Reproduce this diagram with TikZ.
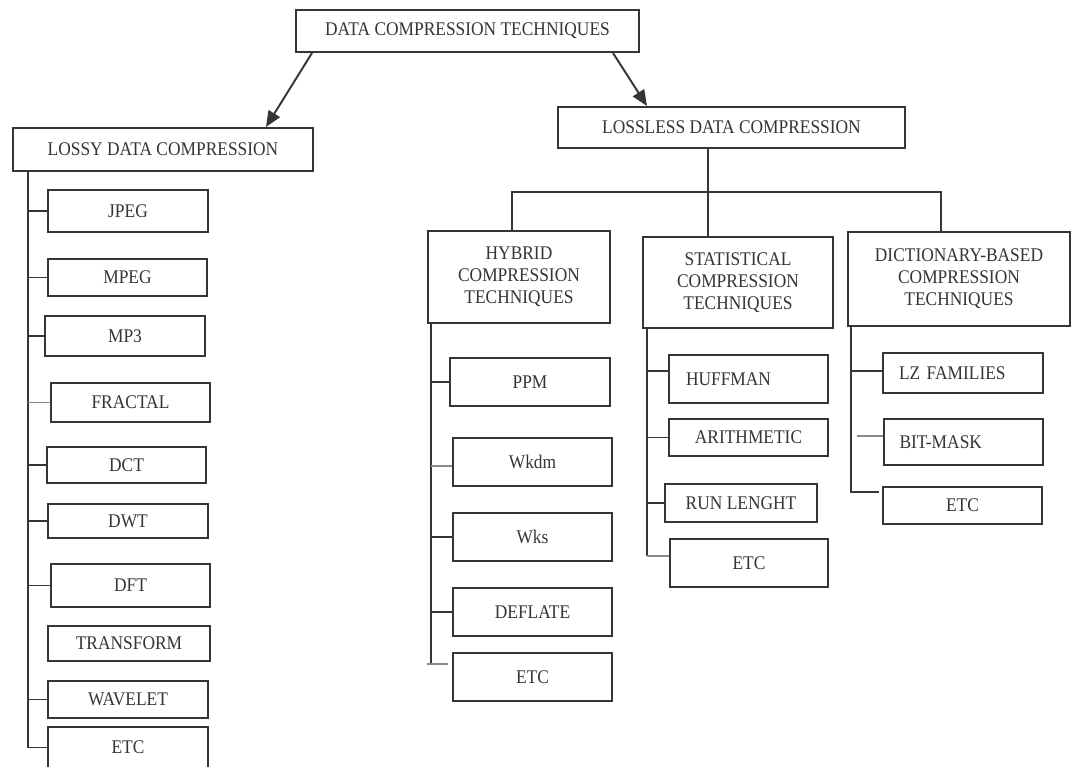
\documentclass[tikz,border=0pt]{standalone}
\usepackage{fontspec}
\setmainfont{Liberation Serif}[FakeStretch=0.9]
\usetikzlibrary{arrows.meta,calc}
\definecolor{ink}{HTML}{353535}
\definecolor{stub}{HTML}{8A8A8A}
% box: \bx[options]{name}{x1}{y1}{x2}{y2}{text}, corners in pixel units
\newcommand\bx[7][]{%
  \node[box,#1,minimum width={(#5-#3)*0.02cm},minimum height={(#6-#4)*0.02cm}]
    (#2) at ({(#3+#5)/2},{(#4+#6)/2}) {#7};}
\begin{document}
\begin{tikzpicture}[x=0.02cm,y=-0.02cm,
  box/.style={draw=ink,line width=1.15pt,fill=white,inner sep=0pt,align=center,
    font=\fontsize{11}{12.5}\selectfont,text=ink},
  lefttext/.style={text width={(#1)*0.02cm},align=left},
  link/.style={draw=ink,line width=1.1pt},
  faint/.style={draw=stub,line width=1.1pt},
  arr/.style={link,-{Triangle[length=9pt,width=7.5pt]}}]
\useasboundingbox (0,0) rectangle (1072,767);
\fill[white] (0,0) rectangle (1072,767);

% root and the two families
\bx{root}{296}{10}{639}{52}{DATA COMPRESSION TECHNIQUES}
\bx{lossy}{13}{128}{313}{171}{LOSSY DATA COMPRESSION}
\bx{lossless}{558}{107}{905}{148}{LOSSLESS DATA COMPRESSION}

\draw[arr] ($(root.south west)+(17,0)$) -- ($(lossy.north west)+(254,0)$);
\draw[arr] ($(root.south east)+(-27,0)$) -- ($(lossless.north west)+(90,0)$);

% lossy techniques
\bx{jpeg}{48}{190}{208}{232}{JPEG}
\bx{mpeg}{48}{259}{207}{296}{MPEG}
\bx{mpthree}{45}{316}{205}{356}{MP3}
\bx{fractal}{51}{383}{210}{422}{FRACTAL}
\bx{dct}{47}{447}{206}{483}{DCT}
\bx{dwt}{48}{504}{208}{538}{DWT}
\bx{dft}{51}{564}{210}{607}{DFT}
\bx{transform}{48}{626}{210}{661}{TRANSFORM}
\bx{wavelet}{48}{681}{208}{718}{WAVELET}
\bx{lyetc}{48}{727}{208}{768}{ETC}

\coordinate (ltrunk) at ($(lossy.south west)+(16,0)$);
\draw[link] (ltrunk) |- (lyetc.west);
\foreach \n in {jpeg,mpeg,mpthree,dct,dwt,dft,wavelet}
  \draw[link] (ltrunk |- \n.west) -- (\n.west);
\draw[faint] (ltrunk |- fractal.west) -- (fractal.west);

% lossless groups
\bx{hybrid}{428}{231}{610}{323}{HYBRID\\COMPRESSION\\TECHNIQUES}
\bx{stat}{643}{237}{833}{328}{STATISTICAL\\COMPRESSION\\TECHNIQUES}
\bx{dict}{848}{232}{1070}{326}{DICTIONARY-BASED\\COMPRESSION\\TECHNIQUES}

\coordinate (bus) at (0,192);
\coordinate (lsd) at ($(lossless.south west)+(151,0)$);
\coordinate (hx) at ($(hybrid.north west)+(85,0)$);
\coordinate (dx) at ($(dict.north west)+(94,0)$);
\draw[link] (lsd) -- (lsd |- stat.north);
\draw[link] (hx) -- (hx |- bus) -- (dx |- bus) -- (dx);

% hybrid techniques
\bx{ppm}{450}{358}{610}{406}{PPM}
\bx{wkdm}{453}{438}{612}{486}{Wkdm}
\bx{wks}{453}{513}{612}{561}{Wks}
\bx{deflate}{453}{588}{612}{636}{DEFLATE}
\bx{hyetc}{453}{653}{612}{701}{ETC}

\coordinate (htrunk) at ($(hybrid.south west)+(4,0)$);
\coordinate (hend) at ($(hyetc.north west)+(-4,12)$);
\draw[link] (htrunk) -- (htrunk |- hend);
\draw[faint] ($(htrunk |- hend)+(-4,0)$) -- (hend);
\foreach \n in {ppm,wks,deflate}
  \draw[link] (htrunk |- \n.west) -- (\n.west);
\draw[faint] ($(htrunk |- wkdm.west)+(0,4)$) -- ($(wkdm.west)+(0,4)$);

% statistical techniques
\bx[lefttext=125]{huffman}{669}{355}{828}{403}{\mbox{HUFFMAN}}
\bx{arith}{669}{419}{828}{456}{ARITHMETIC}
\bx{runlen}{665}{484}{817}{522}{RUN LENGHT}
\bx{stetc}{670}{539}{828}{587}{ETC}

\coordinate (strunk) at ($(stat.south west)+(5,0)$);
\coordinate (send) at ($(stetc.north west)+(0,18)$);
\draw[link] (strunk) -- (strunk |- send);
\draw[faint] (strunk |- send) -- (send);
\draw[link] (strunk |- 0,371) -- (huffman.west |- 0,371);
\draw[link] (strunk |- arith.west) -- (arith.west);
\draw[link] (strunk |- runlen.west) -- (runlen.west);

% dictionary-based techniques
\bx[lefttext=128]{lz}{883}{353}{1043}{393}{\mbox{LZ FAMILIES}}
\bx[lefttext=128]{bitmask}{884}{419}{1043}{465}{\mbox{BIT-MASK}}
\bx{dcetc}{883}{487}{1042}{524}{ETC}

\coordinate (dtrunk) at ($(dict.south west)+(4,0)$);
\coordinate (dend) at ($(dcetc.north west)+(-3,6)$);
\draw[link] (dtrunk) -- (dtrunk |- dend) -- (dend);
\draw[link] (dtrunk |- 0,371) -- (lz.west |- 0,371);
\draw[faint] ($(dtrunk |- 0,436)+(6,0)$) -- (bitmask.west |- 0,436);
\end{tikzpicture}
\end{document}
